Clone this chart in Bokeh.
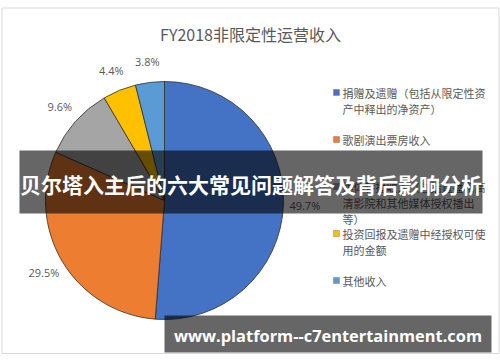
import math
from bokeh.plotting import figure
from bokeh.models import Range1d, ColumnDataSource
from bokeh.core.properties import value
from bokeh.embed import file_html
from bokeh.resources import INLINE

title = "FY2018非限定性运营收入"
categories = [
    "捐赠及遗赠（包括从限定性资\n产中释出的净资产）",
    "歌剧演出票房收入",
    "媒体转播收入（包括直播和高\n清影院和其他媒体授权播出\n等）",
    "投资回报及遗赠中经授权可使\n用的金额",
    "其他收入",
]
values = [49.7, 29.5, 9.6, 4.4, 3.8]
colors = ["#4472C4", "#ED7D31", "#A5A5A5", "#FFC000", "#5B9BD5"]
banner_text = "贝尔塔入主后的六大常见问题解答及背后影响分析"
footer_text = "www.platform--c7entertainment.com"

W, H = 500, 362  # page coordinates; data y = H - page_y

p = figure(width=500, height=362, output_backend="svg", toolbar_location=None,
           x_range=Range1d(0, 500), y_range=Range1d(0, 362), min_border=0)
p.axis.visible = False
p.grid.visible = False
p.outline_line_color = None
p.background_fill_color = "white"
p.border_fill_color = "white"

# chart frame
p.quad(left=1.5, right=498.5, top=H - 7.5, bottom=H - 353, fill_alpha=0,
       line_color="#d9d9d9", line_width=1)

# title
p.text(x=[250], y=[H - 33], text=[title], text_font=value("Noto Sans CJK SC"),
       text_font_size="16px", text_color="#595959", text_align="center",
       text_baseline="middle")

# pie
cx, cy, r = 164, H - 200, 119
total = sum(values)
starts, ends, lx, ly, labels = [], [], [], [], []
cum = 0.0
for v in values:
    c0 = cum / total * 2 * math.pi
    cum += v
    c1 = cum / total * 2 * math.pi
    starts.append(math.pi / 2 - c1)
    ends.append(math.pi / 2 - c0)
    mid = (c0 + c1) / 2
    lr = r * 1.18
    lx.append(cx + lr * math.sin(mid))
    ly.append(cy + lr * math.cos(mid))
    labels.append(f"{v:.1f}%")

src = ColumnDataSource(dict(start=starts, end=ends, color=colors))
p.wedge(x=cx, y=cy, radius=r, start_angle="start", end_angle="end",
        fill_color="color", line_color="#303030", line_width=0.8, source=src)

p.text(x=lx, y=ly, text=labels, text_font=value("Open Sans"), text_font_size="11px",
       text_color="#595959", text_align="center", text_baseline="middle")

# legend
leg_y = [H - (92 + 47 * i) for i in range(len(categories))]
p.rect(x=[336] * len(categories), y=leg_y, width=6, height=6, fill_color=colors,
       line_color="#7f7f7f", line_width=0.5)
p.text(x=[342] * len(categories), y=[y + 7.5 for y in leg_y], text=categories,
       text_font=value("Noto Sans CJK SC"), text_font_size="11px",
       text_color="#595959", text_align="left", text_baseline="top",
       text_line_height=1.0)

# overlay banner
p.quad(left=19, right=482, top=H - 150, bottom=H - 213, fill_color="black",
       fill_alpha=0.6, line_alpha=0)
p.text(x=[250.5], y=[H - 183], text=[banner_text], text_font=value("Noto Sans CJK SC"),
       text_font_size="21px", text_font_style="bold", text_color="white",
       text_align="center", text_baseline="middle")

# footer banner
p.quad(left=164, right=491, top=H - 315, bottom=H - 352, fill_color="black",
       fill_alpha=0.6, line_alpha=0)
p.text(x=[327.5], y=[H - 335], text=[footer_text], text_font=value("Open Sans"),
       text_font_size="16.4px", text_font_style="bold", text_color="white",
       text_align="center", text_baseline="middle")

open("out.html", "w").write(file_html(p, INLINE))
